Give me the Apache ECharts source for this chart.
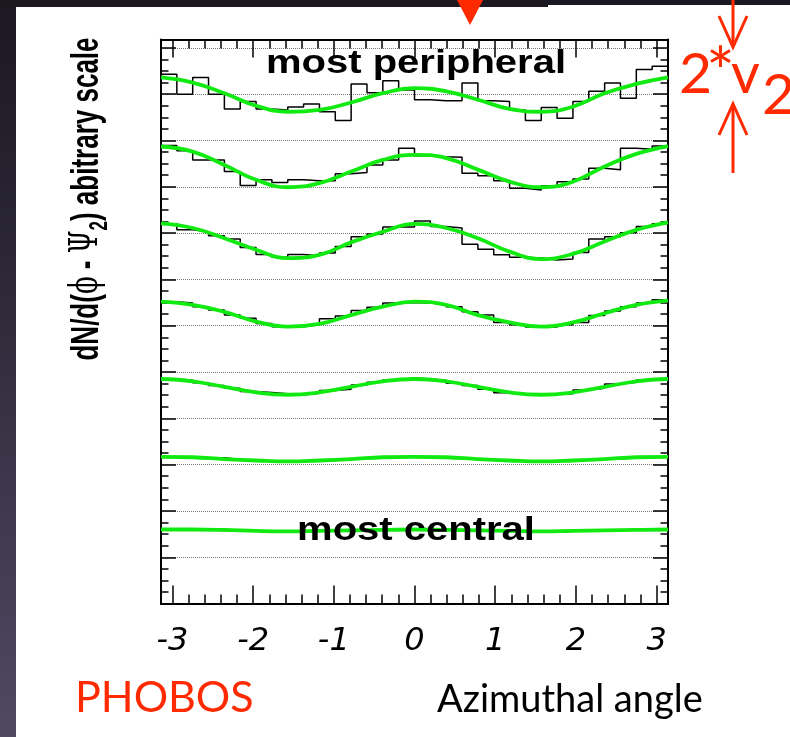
<!DOCTYPE html>
<html>
<head>
<meta charset="utf-8">
<script src="https://cdn.jsdelivr.net/npm/echarts@6/dist/echarts.min.js"></script>
<style>
html,body{margin:0;padding:0;width:790px;height:737px;overflow:hidden;
  background:linear-gradient(to bottom,#1b1822 0%,#2b2735 35%,#4f4963 100%);}
#p1{position:absolute;left:16px;top:7px;width:774px;height:730px;background:#fff;}
#p2{position:absolute;left:548px;top:5px;width:242px;height:3px;background:#fff;}
#chart{position:absolute;left:0;top:0;width:790px;height:737px;}
</style>
</head>
<body>
<div id="p1"></div><div id="p2"></div>
<div id="chart"></div>
<script>
// ---------------- data ----------------
const nBins = 32;                       // histogram bins over [-pi, pi]
const xMajorTicks = [-3, -2, -1, 0, 1, 2, 3];
const xMinorTicks = [-2.8,-2.6,-2.4,-2.2,-1.8,-1.6,-1.4,-1.2,-0.8,-0.6,-0.4,-0.2,
                     0.2,0.4,0.6,0.8,1.2,1.4,1.6,1.8,2.2,2.4,2.6,2.8];
const xTickLabels = ['-3', '-2', '-1', '0', '1', '2', '3'];

// histogram contents (arbitrary scale, stacked with offsets), most peripheral first
const hist1 = [11.43,11.00,11.36,11.00,10.68,10.84,10.68,10.66,10.72,10.79,10.62,10.43,11.22,11.03,11.29,11.09,
               10.88,10.86,10.86,11.24,10.86,10.84,10.66,10.43,10.71,10.48,10.84,11.06,11.24,10.91,11.53,11.60];
const hist2 = [9.89,9.78,9.58,9.58,9.33,9.03,9.15,9.09,9.15,9.13,9.13,9.28,9.31,9.47,9.58,9.83,
               9.67,9.65,9.64,9.29,9.24,9.13,8.97,8.93,9.02,9.11,9.17,9.40,9.37,9.83,9.81,9.88];
const hist3 = [8.20,8.07,8.03,7.94,7.87,7.69,7.54,7.48,7.54,7.51,7.57,7.71,7.92,7.98,8.13,8.13,
               8.26,8.14,8.11,7.76,7.65,7.53,7.48,7.46,7.42,7.44,7.58,7.87,7.92,8.01,8.14,8.20];
const hist4 = [6.52,6.49,6.41,6.34,6.23,6.16,6.05,5.98,5.98,6.02,6.15,6.21,6.33,6.40,6.49,6.50,
               6.49,6.46,6.41,6.30,6.23,6.07,6.02,5.97,5.97,6.02,6.07,6.22,6.32,6.41,6.49,6.56];
const hist5 = [4.85,4.82,4.77,4.71,4.65,4.58,4.56,4.53,4.51,4.54,4.60,4.63,4.72,4.78,4.83,4.87,
               4.85,4.82,4.76,4.71,4.63,4.55,4.53,4.51,4.52,4.53,4.61,4.65,4.74,4.78,4.83,4.87];
const hist6 = [3.17,3.16,3.14,3.15,3.11,3.09,3.08,3.07,3.07,3.08,3.09,3.11,3.14,3.15,3.16,3.17,
               3.17,3.16,3.14,3.11,3.10,3.08,3.07,3.07,3.07,3.08,3.10,3.12,3.13,3.15,3.16,3.17];
const hist7 = [1.60,1.60,1.59,1.58,1.56,1.56,1.56,1.56,1.56,1.57,1.58,1.59,1.59,1.60,1.60,1.60,
               1.60,1.60,1.59,1.58,1.57,1.56,1.56,1.56,1.54,1.56,1.57,1.58,1.59,1.60,1.60,1.60];

// fitted curves read at phi = k*pi/8, k = -8..8
const fitSteps = 16;
const fit1 = [11.36,11.25,11.02,10.75,10.62,10.66,10.82,11.02,11.13,11.06,10.88,10.68,10.62,10.73,11.02,11.22,11.36];
const fit2 = [9.87,9.76,9.47,9.15,8.99,9.08,9.33,9.58,9.69,9.62,9.37,9.11,8.99,9.11,9.44,9.71,9.88];
const fit3 = [8.21,8.11,7.89,7.64,7.46,7.53,7.80,8.03,8.20,8.11,7.89,7.60,7.44,7.55,7.82,8.07,8.23];
const fit4 = [6.52,6.45,6.30,6.09,5.98,6.04,6.23,6.41,6.52,6.45,6.23,6.07,5.98,6.07,6.27,6.45,6.54];
const fit5 = [4.85,4.80,4.68,4.56,4.51,4.56,4.68,4.80,4.85,4.80,4.68,4.56,4.51,4.56,4.68,4.80,4.85];
const fit6 = [3.17,3.16,3.12,3.09,3.07,3.09,3.12,3.16,3.17,3.16,3.12,3.09,3.07,3.09,3.12,3.16,3.17];
const fit7 = [1.60,1.60,1.59,1.57,1.56,1.57,1.58,1.59,1.60,1.59,1.58,1.57,1.56,1.57,1.58,1.59,1.60];

const hists = [hist1, hist2, hist3, hist4, hist5, hist6, hist7];
const fits = [fit1, fit2, fit3, fit4, fit5, fit6, fit7];

// ---------------- build ----------------
const PI = Math.PI;
const binW = 2 * PI / nBins;
function histData(h) {
  const d = h.map((v, i) => [-PI + i * binW, v]);
  d.push([PI, h[h.length - 1]]);
  return d;
}
function fitData(f) {
  return f.map((v, i) => [-PI + i * (2 * PI / fitSteps), v]);
}

const series = [];
hists.forEach(h => series.push({
  type: 'line', data: histData(h), step: 'end', showSymbol: false, symbol: 'none',
  lineStyle: { color: '#000', width: 1.5 }, z: 3, silent: true, animation: false
}));
fits.forEach(f => series.push({
  type: 'line', data: fitData(f), smooth: 0.45, showSymbol: false, symbol: 'none',
  lineStyle: { color: '#11ea11', width: 3.8 }, z: 4, silent: true, animation: false
}));

const frameLine = { show: true, onZero: false, lineStyle: { color: '#000', width: 2 } };
function xAx(pos, major) {
  return {
    type: 'value', min: -PI, max: PI, position: pos,
    axisLine: frameLine, splitLine: { show: false },
    axisTick: { show: true, inside: true, length: major ? 18 : 9,
      customValues: major ? xMajorTicks : xMinorTicks,
      lineStyle: { color: '#000', width: 1.5 } },
    axisLabel: (pos === 'bottom' && major) ? {
      show: true, customValues: xMajorTicks, margin: 22,
      formatter: v => xTickLabels[xMajorTicks.indexOf(Math.round(v))],
      fontFamily: 'DejaVu Sans', fontStyle: 'italic', fontSize: 32, color: '#000'
    } : { show: false }
  };
}
function yAx(pos) {
  return {
    type: 'value', min: 0, max: 12.18, interval: 1, position: pos,
    axisLine: frameLine,
    axisTick: { show: true, inside: true, length: 15, lineStyle: { color: '#000', width: 1.5 } },
    minorTick: { show: true, splitNumber: 4, length: 7.5, lineStyle: { color: '#000', width: 1.5 } },
    axisLabel: { show: false },
    splitLine: { show: pos === 'left', lineStyle: { color: '#777', type: 'dotted', width: 1 } }
  };
}

const red = '#ff2a00';
function redText(t, x, y, size) {
  return { type: 'text', x: x, y: y, z: 10,
    style: { text: t, font: size + 'px Lato', fill: red,
             align: 'left', verticalAlign: 'middle', textAlign: 'left', textVerticalAlign: 'middle' } };
}
const chart = echarts.init(document.getElementById('chart'), null, { renderer: 'canvas' });
chart.setOption({
  animation: false,
  grid: { left: 161, right: 122, top: 39.5, bottom: 133.4 },
  xAxis: [xAx('bottom', true), xAx('bottom', false), xAx('top', true), xAx('top', false)],
  yAxis: [yAx('left'), yAx('right')],
  series: series,
  graphic: [
    { type: 'text', x: 416, y: 64, scaleX: 1.25, scaleY: 1.05, z: 10,
      style: { text: 'most peripheral', font: 'bold 32px "Liberation Sans"', fill: '#000',
               align: 'center', verticalAlign: 'middle', textAlign: 'center', textVerticalAlign: 'middle' } },
    { type: 'text', x: 416, y: 531, scaleX: 1.25, scaleY: 1.05, z: 10,
      style: { text: 'most central', font: 'bold 32px "Liberation Sans"', fill: '#000',
               align: 'center', verticalAlign: 'middle', textAlign: 'center', textVerticalAlign: 'middle' } },
    { type: 'text', x: 87, y: 199, rotation: PI / 2, scaleY: 1.5, z: 10,
      style: {
        text: '{a|dN/d(}{p|ϕ}{a| - }{p|Ψ}{s|2}{a|) abitrary scale}',
        align: 'center', verticalAlign: 'middle', textAlign: 'center', textVerticalAlign: 'middle',
        fill: '#000',
        rich: {
          a: { fontFamily: 'Liberation Sans', fontWeight: 'bold', fontSize: 26, lineHeight: 34, fill: '#000', color: '#000' },
          p: { fontFamily: 'DejaVu Serif', fontWeight: 'normal', fontSize: 26, lineHeight: 34, fill: '#000', color: '#000' },
          s: { fontFamily: 'Liberation Sans', fontWeight: 'bold', fontSize: 17, lineHeight: 17, verticalAlign: 'bottom', fill: '#000', color: '#000' }
        }
      } },
    { type: 'text', x: 437, y: 700, z: 10,
      style: { text: 'Azimuthal angle', font: '38px Lato', fill: '#000',
               align: 'left', verticalAlign: 'middle', textAlign: 'left', textVerticalAlign: 'middle' } },
    redText('PHOBOS', 75, 698, 43),
    redText('2', 679, 74.5, 57),
    redText('*', 706, 74.5, 68),
    redText('v', 731, 74.5, 56),
    redText('2', 762, 95.5, 57),
    { type: 'polygon', z: 10, shape: { points: [[457, 0], [483, 0], [470, 25]] }, style: { fill: red } },
    { type: 'polyline', z: 10, shape: { points: [[733, 0], [733, 46]] }, style: { stroke: red, lineWidth: 3, fill: null } },
    { type: 'polyline', z: 10, shape: { points: [[719, 16], [733, 47], [747, 16]] }, style: { stroke: red, lineWidth: 3, fill: null } },
    { type: 'polyline', z: 10, shape: { points: [[733, 104], [733, 173]] }, style: { stroke: red, lineWidth: 3, fill: null } },
    { type: 'polyline', z: 10, shape: { points: [[719, 135], [733, 104], [747, 135]] }, style: { stroke: red, lineWidth: 3, fill: null } }
  ]
});
</script>
</body>
</html>
